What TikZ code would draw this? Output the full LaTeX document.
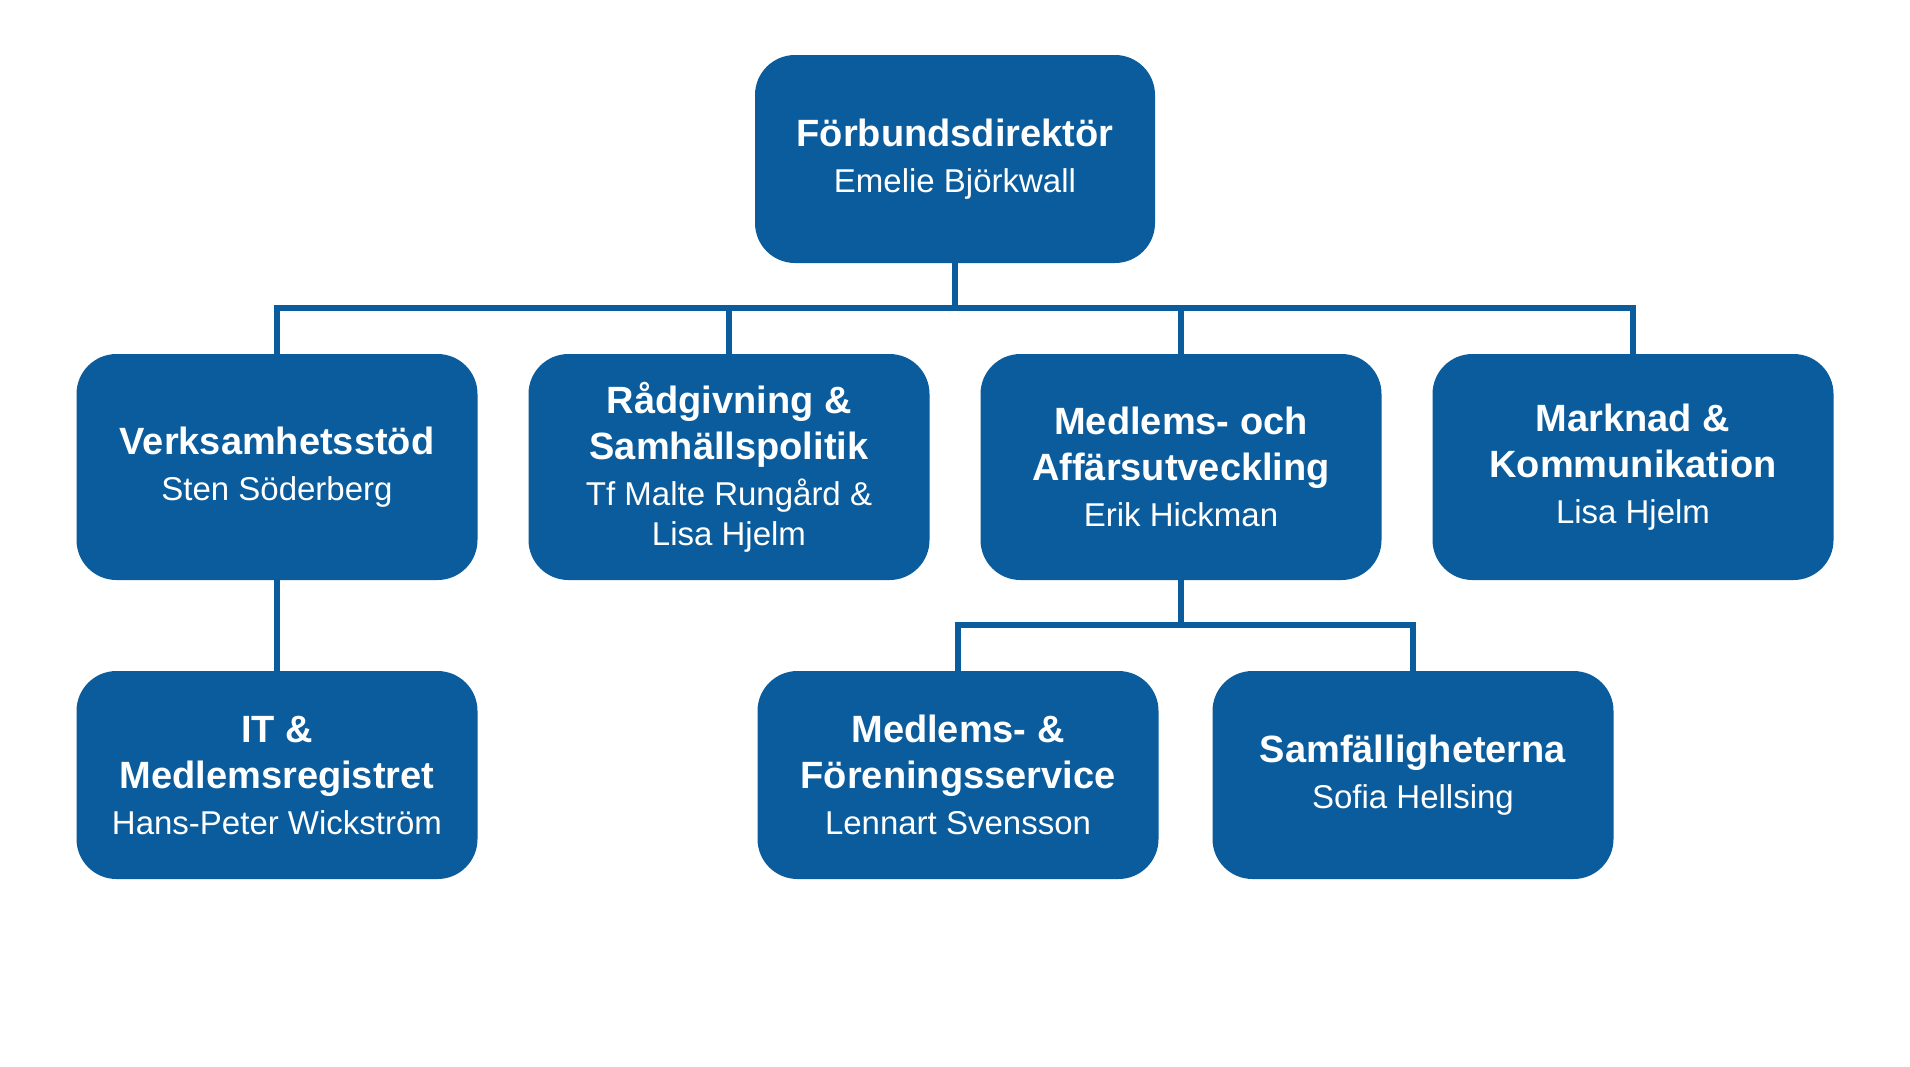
\documentclass[tikz,border=0pt]{standalone}
\usepackage{fontspec}
\setmainfont{Liberation Sans}
\usetikzlibrary{calc}
\definecolor{blu}{RGB}{10,92,156}
\newcommand\tl[1]{{\fontsize{38}{46}\selectfont\bfseries #1}}
\tikzset{
  box/.style={fill=blu, rounded corners=40pt, minimum width=401pt, inner sep=0pt,
    text=white, align=center, font=\fontsize{33}{40}\selectfont},
  rowtwo/.style={box, minimum height=226pt},
  rowthree/.style={box, minimum height=208pt},
  conn/.style={draw=blu, line width=6pt}
}
\begin{document}
\begin{tikzpicture}[x=1pt,y=-1pt]
\useasboundingbox[fill=white] (0,0) rectangle (1910,1066);
\coordinate (bus) at (955,308);
\coordinate (sub) at (1181,625);
\node[rowthree, minimum width=400pt] (top) at (955,159) {\tl{Förbundsdirektör}\\[6pt]Emelie Björkwall};
\node[rowtwo] (b1) at (277,467) {\tl{Verksamhetsstöd}\\[6pt]Sten Söderberg};
\node[rowtwo] (b2) at (729,467) {\tl{Rådgivning \&}\\[6pt]\tl{Samhällspolitik}\\[6pt]Tf Malte Rungård \&\\Lisa Hjelm};
\node[rowtwo] (b3) at (1181,467) {\tl{Medlems- och}\\[6pt]\tl{Affärsutveckling}\\[6pt]Erik Hickman};
\node[rowtwo] (b4) at (1633,467) {\tl{Marknad \&}\\[6pt]\tl{Kommunikation}\\[6pt]Lisa Hjelm};
\node[rowthree] (c1) at (277,775) {\tl{IT \&}\\[6pt]\tl{Medlemsregistret}\\[6pt]Hans-Peter Wickström};
\node[rowthree] (c2) at (958,775) {\tl{Medlems- \&}\\[6pt]\tl{Föreningsservice}\\[6pt]Lennart Svensson};
\node[rowthree] (c3) at (1413,775) {\tl{Samfälligheterna}\\[6pt]Sofia Hellsing};
\draw[conn] (top.south) -- (bus) -| (b1.north);
\draw[conn] (bus) -| (b2.north);
\draw[conn] (bus) -| (b3.north);
\draw[conn] (bus) -| (b4.north);
\draw[conn] (b1.south) -- (c1.north);
\draw[conn] (b3.south) -- (sub) -| (c2.north);
\draw[conn] (sub) -| (c3.north);
\end{tikzpicture}
\end{document}
